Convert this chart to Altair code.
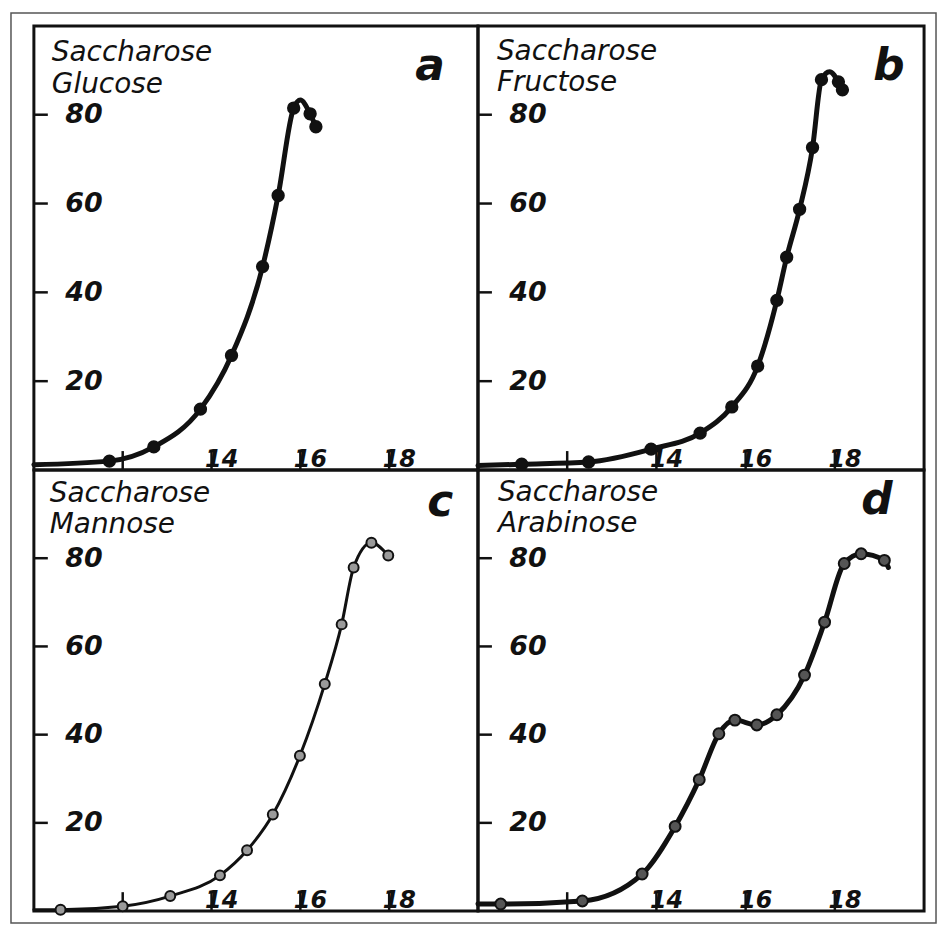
import altair as alt
import pandas as pd

# ---- data -------------------------------------------------------------
X_DOMAIN = [10, 20]
Y_DOMAIN = [0, 100]
X_TICKS = [12, 14, 16, 18]
Y_TICKS = [20, 40, 60, 80]

A_X = [10.0, 11.7, 12.7, 13.75, 14.45, 15.15, 15.5, 15.85, 16.0, 16.22, 16.35]
A_Y = [1.2, 2.0, 5.2, 13.7, 25.8, 45.8, 61.8, 81.5, 83.3, 80.2, 77.3]
A_DOT = [0, 1, 1, 1, 1, 1, 1, 1, 0, 1, 1]

B_X = [10.0, 10.98, 12.48, 13.88, 14.98, 15.69, 16.27, 16.70, 16.92, 17.21, 17.50, 17.70, 17.88, 18.08, 18.17]
B_Y = [1.0, 1.3, 1.8, 4.7, 8.3, 14.2, 23.4, 38.2, 47.9, 58.7, 72.6, 87.9, 89.7, 87.4, 85.6]
B_DOT = [0, 1, 1, 1, 1, 1, 1, 1, 1, 1, 1, 1, 0, 1, 1]

C_X = [10.0, 10.6, 12.0, 13.07, 14.19, 14.8, 15.38, 15.99, 16.55, 16.93, 17.2, 17.6, 17.98]
C_Y = [0.3, 0.3, 1.1, 3.4, 8.1, 13.8, 21.9, 35.2, 51.5, 65.0, 77.9, 83.5, 80.6]
C_DOT = [0, 1, 1, 1, 1, 1, 1, 1, 1, 1, 1, 1, 1]

D_X = [10.0, 10.51, 12.34, 13.68, 14.42, 14.96, 15.40, 15.76, 16.25, 16.70, 17.32, 17.77, 18.21, 18.59, 19.11, 19.20]
D_Y = [1.6, 1.6, 2.3, 8.4, 19.2, 29.8, 40.2, 43.3, 42.2, 44.5, 53.5, 65.5, 78.8, 81.0, 79.5, 77.9]
D_DOT = [0, 1, 1, 1, 1, 1, 1, 1, 1, 1, 1, 1, 1, 1, 1, 0]

TITLE_TOP = ["Saccharose", "Saccharose", "Saccharose", "Saccharose"]
TITLE_BOTTOM = ["Glucose", "Fructose", "Mannose", "Arabinose"]
LETTERS = ["a", "b", "c", "d"]

FONT = "DejaVu Sans"
INK = "#111111"


def text_layer(txt, px, py, size, weight="normal"):
    return alt.Chart(pd.DataFrame({"t": [txt]})).mark_text(
        align="left", baseline="alphabetic", font=FONT, fontSize=size,
        fontStyle="italic", fontWeight=weight, color=INK
    ).encode(x=alt.value(px), y=alt.value(py), text="t:N")


def make_panel(xs, ys, dots, w, h, line_w, dot_fill, dot_size, i,
               tpos, lpos, frame=False):
    df = pd.DataFrame({"x": xs, "y": ys, "dot": dots})
    xaxis = alt.Axis(
        orient="top", offset=-h, values=X_TICKS, tickSize=19, tickOpacity=0,
        domain=False, grid=False, format="d",
        labelExpr="datum.value == 12 ? '' : datum.label",
        labelAlign="left", labelBaseline="alphabetic", labelPadding=-15,
        labelOffset=-7, labelFont=FONT, labelFontSize=24, labelFontWeight="bold",
        labelFontStyle="italic", labelColor=INK, title=None)
    yaxis = alt.Axis(
        orient="right", offset=-w, values=Y_TICKS, tickSize=14, tickOpacity=0,
        domain=False, grid=False, format="d",
        labelPadding=17, labelFont=FONT, labelFontSize=27, labelFontWeight="bold",
        labelFontStyle="italic", labelColor=INK, labelBaseline="middle",
        title=None)
    xenc = alt.X("x:Q", scale=alt.Scale(domain=X_DOMAIN, nice=False, zero=False), axis=xaxis)
    yenc = alt.Y("y:Q", scale=alt.Scale(domain=Y_DOMAIN, nice=False), axis=yaxis)

    line = alt.Chart(df).mark_line(
        interpolate="monotone", color=INK, strokeWidth=line_w,
        strokeCap="round", strokeJoin="round").encode(x=xenc, y=yenc)
    pts = alt.Chart(df).transform_filter("datum.dot == 1").mark_circle(
        size=dot_size, fill=dot_fill, stroke=INK, strokeWidth=2, opacity=1
    ).encode(x=xenc, y=yenc)

    xt = alt.Chart(pd.DataFrame({"x": X_TICKS})).mark_rule(
        color=INK, strokeWidth=2.5).encode(x=xenc, x2=alt.X2("x"),
                                            y=alt.value(h), y2=alt.value(h - 19))
    yt = alt.Chart(pd.DataFrame({"y": Y_TICKS})).mark_rule(
        color=INK, strokeWidth=2.5).encode(y=yenc, y2=alt.Y2("y"),
                                            x=alt.value(0), x2=alt.value(14))

    layers = []
    if frame:
        layers.append(
            alt.Chart(pd.DataFrame({"f": [0]})).mark_rect(
                fillOpacity=0, stroke="#555555", strokeWidth=1.5
            ).encode(x=alt.value(-23), x2=alt.value(906),
                     y=alt.value(-13), y2=alt.value(901)))
    layers += [
        xt, yt, line, pts,
        text_layer(TITLE_TOP[i], tpos[0], tpos[1], 28),
        text_layer(TITLE_BOTTOM[i], tpos[0], tpos[2], 28),
        text_layer(LETTERS[i], lpos[0], lpos[1], 44, "bold"),
    ]
    return alt.layer(*layers).properties(width=w, height=h)


pa = make_panel(A_X, A_Y, A_DOT, 446, 446, 5, INK, 130, 0, (18, 35, 67), (383, 54), frame=True)
pb = make_panel(B_X, B_Y, B_DOT, 448, 446, 5, INK, 130, 1, (19, 34, 65), (397, 54))
pc = make_panel(C_X, C_Y, C_DOT, 446, 443, 3, "#9a9a9a", 100, 2, (16, 32, 63), (395, 46))
pd_ = make_panel(D_X, D_Y, D_DOT, 448, 443, 5, "#555555", 120, 3, (20, 31, 62), (385, 44))

chart = alt.concat(pa, pb, pc, pd_, columns=2, spacing=0, bounds="flush").properties(
    padding=0
).configure_view(stroke=INK, strokeWidth=3)

chart.save("out.html", embed_options={"renderer": "svg", "actions": False})
